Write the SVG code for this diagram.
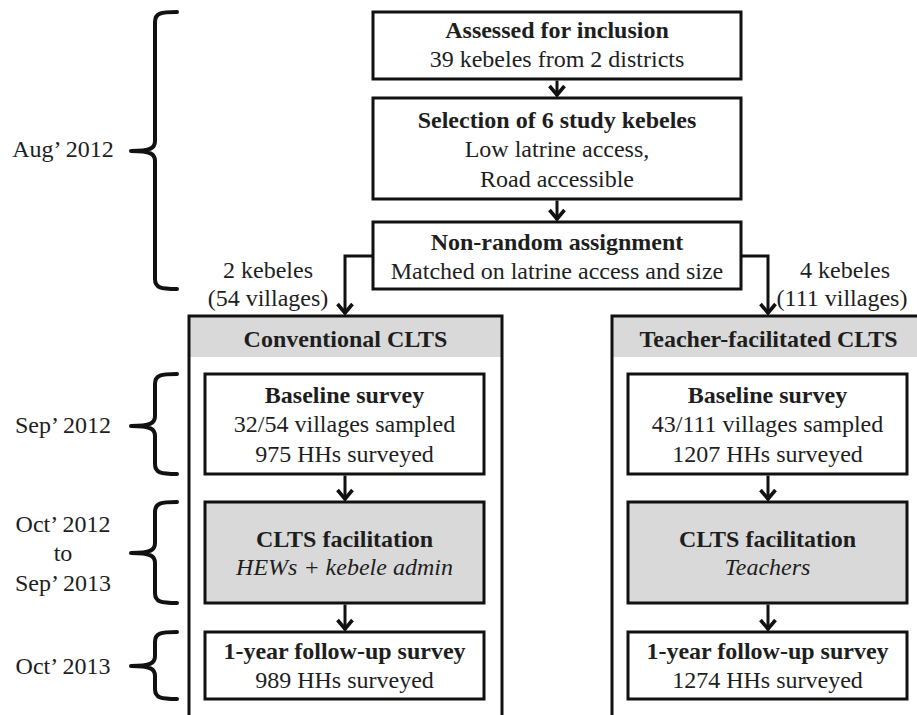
<svg xmlns="http://www.w3.org/2000/svg" width="917" height="715" viewBox="0 0 917 715">
<style>
  text { font-family: "Liberation Serif", "Times New Roman", serif; font-size: 24px; fill: #1e1e1e; text-anchor: middle; }
  .b { font-weight: bold; }
  .i { font-style: italic; }
  .box { fill: #ffffff; stroke: #111; stroke-width: 3; }
  .gbox { fill: #d9d9d9; stroke: #111; stroke-width: 3; }
  .outer { fill: none; stroke: #111; stroke-width: 3; }
  .hdr { fill: #d9d9d9; stroke: none; }
  .conn { fill: none; stroke: #111; stroke-width: 3; marker-end: url(#arr); }
  .brace { fill: none; stroke: #111; stroke-width: 4; stroke-linecap: round; stroke-linejoin: round; }
</style>
<defs>
  <marker id="arr" markerUnits="userSpaceOnUse" markerWidth="20" markerHeight="20" refX="11" refY="8" orient="auto" overflow="visible">
    <path d="M1,0.5 L10,8 L1,15.5" fill="none" stroke="#111" stroke-width="3.6" stroke-linejoin="miter"/>
  </marker>
</defs>
<rect width="917" height="715" fill="#ffffff"/>

<g id="braces">
  <path class="brace" d="M177,12 C161,12 155,13 155,22 L155,141 C155,148 151,151 131,151 C151,151 155,154 155,161 L155,279 C155,288 161,289 177,289"/>
  <path class="brace" d="M177,374 C161,374 155,375 155,384 L155,416 C155,423 151,426 131,426 C151,426 155,429 155,436 L155,464 C155,473 161,474 177,474"/>
  <path class="brace" d="M177,502 C161,502 155,503 155,512 L155,543 C155,550 151,553 131,553 C151,553 155,556 155,563 L155,593 C155,602 161,603 177,603"/>
  <path class="brace" d="M177,632 C161,632 155,633 155,642 L155,656 C155,663 151,666 131,666 C151,666 155,669 155,676 L155,689 C155,698 161,699 177,699"/>
</g>

<g id="time-labels">
  <text x="63" y="157">Aug’ 2012</text>
  <text x="63" y="433">Sep’ 2012</text>
  <text x="63" y="532">Oct’ 2012</text>
  <text x="63" y="561">to</text>
  <text x="63" y="591">Sep’ 2013</text>
  <text x="63" y="674">Oct’ 2013</text>
</g>

<g id="arm-conventional">
  <rect class="hdr" x="189" y="316" width="313" height="41"/>
  <rect class="outer" x="189" y="316" width="313" height="430"/>
  <text class="b" x="345.5" y="347">Conventional CLTS</text>
</g>

<g id="arm-teacher">
  <rect class="hdr" x="612" y="316" width="313" height="41"/>
  <rect class="outer" x="612" y="316" width="313" height="430"/>
  <text class="b" x="768.5" y="347">Teacher-facilitated CLTS</text>
</g>

<g id="node-assessed">
  <rect class="box" x="373" y="12" width="368" height="67"/>
  <text class="b" x="557" y="38">Assessed for inclusion</text>
  <text x="557" y="67">39 kebeles from 2 districts</text>
</g>

<g id="node-selection">
  <rect class="box" x="373" y="98" width="368" height="101"/>
  <text class="b" x="557" y="128">Selection of 6 study kebeles</text>
  <text x="557" y="157">Low latrine access,</text>
  <text x="557" y="187">Road accessible</text>
</g>

<g id="node-assignment">
  <rect class="box" x="373" y="222" width="368" height="67"/>
  <text class="b" x="557" y="250">Non-random assignment</text>
  <text x="557" y="279">Matched on latrine access and size</text>
</g>

<g id="node-conv-baseline">
  <rect class="box" x="205" y="374" width="279" height="100"/>
  <text class="b" x="344.5" y="403">Baseline survey</text>
  <text x="344.5" y="432">32/54 villages sampled</text>
  <text x="344.5" y="462">975 HHs surveyed</text>
</g>

<g id="node-conv-facilitation">
  <rect class="gbox" x="205" y="502" width="279" height="101"/>
  <text class="b" x="344.5" y="547">CLTS facilitation</text>
  <text class="i" x="344.5" y="575">HEWs + kebele admin</text>
</g>

<g id="node-conv-followup">
  <rect class="box" x="205" y="632" width="279" height="67"/>
  <text class="b" x="344.5" y="659">1-year follow-up survey</text>
  <text x="344.5" y="688">989 HHs surveyed</text>
</g>

<g id="node-teach-baseline">
  <rect class="box" x="628" y="374" width="279" height="100"/>
  <text class="b" x="767.5" y="403">Baseline survey</text>
  <text x="767.5" y="432">43/111 villages sampled</text>
  <text x="767.5" y="462">1207 HHs surveyed</text>
</g>

<g id="node-teach-facilitation">
  <rect class="gbox" x="628" y="502" width="279" height="101"/>
  <text class="b" x="767.5" y="547">CLTS facilitation</text>
  <text class="i" x="767.5" y="575">Teachers</text>
</g>

<g id="node-teach-followup">
  <rect class="box" x="628" y="632" width="279" height="67"/>
  <text class="b" x="767.5" y="659">1-year follow-up survey</text>
  <text x="767.5" y="688">1274 HHs surveyed</text>
</g>

<g id="connectors">
  <path class="conn" d="M557,80.5 V96"/>
  <path class="conn" d="M557,200.5 V220"/>
  <path class="conn" d="M373,256 H345 V314"/>
  <path class="conn" d="M741,256 H768 V314"/>
  <path class="conn" d="M345,475.5 V500"/>
  <path class="conn" d="M345,604.5 V630"/>
  <path class="conn" d="M768,475.5 V500"/>
  <path class="conn" d="M768,604.5 V630"/>
  <text x="268" y="278">2 kebeles</text>
  <text x="268" y="306">(54 villages)</text>
  <text x="845" y="278">4 kebeles</text>
  <text x="842" y="306">(111 villages)</text>
</g>
</svg>
